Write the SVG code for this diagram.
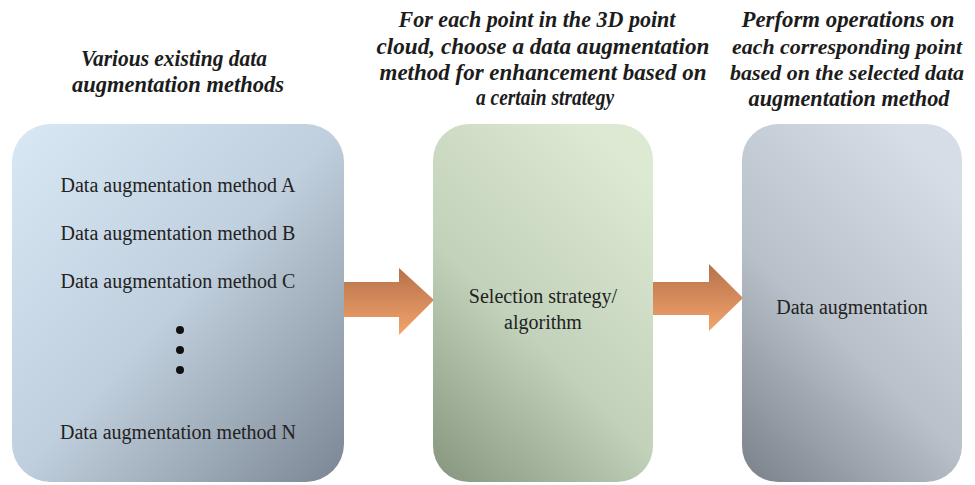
<svg xmlns="http://www.w3.org/2000/svg" width="975" height="485" viewBox="0 0 975 485">
  <style>
    .head { font-family: "Liberation Serif", "Times New Roman", serif; font-weight: bold; font-style: italic; font-size: 24px; fill: #1c1c1c; text-anchor: middle; }
    .head.narrow { font-size: 21px; }
    .body { font-family: "Liberation Serif", "Times New Roman", serif; font-size: 20px; fill: #222; text-anchor: middle; }
    .arrow { fill: url(#gArrow); }
  </style>
  <defs>
    <linearGradient id="gBlue" x1="0" y1="0" x2="1" y2="1">
      <stop offset="0" stop-color="#d9e8f5"/>
      <stop offset="0.5" stop-color="#c0cfdd"/>
      <stop offset="1" stop-color="#7b8694"/>
    </linearGradient>
    <linearGradient id="gGreen" x1="0.7" y1="0" x2="0.1" y2="1">
      <stop offset="0" stop-color="#dce9d3"/>
      <stop offset="0.55" stop-color="#c2d1ba"/>
      <stop offset="1" stop-color="#8a9a83"/>
    </linearGradient>
    <linearGradient id="gGrey" x1="0.7" y1="0" x2="0.1" y2="1">
      <stop offset="0" stop-color="#d5dde7"/>
      <stop offset="0.55" stop-color="#b8c0ca"/>
      <stop offset="1" stop-color="#80868f"/>
    </linearGradient>
    <linearGradient id="gArrow" x1="0" y1="0" x2="0" y2="1">
      <stop offset="0" stop-color="#b5714a"/>
      <stop offset="1" stop-color="#f4a46c"/>
    </linearGradient>
  </defs>

  <!-- column captions (condensed bold italic) -->
  <g id="captions">
    <text class="head" x="174" y="66" textLength="186" lengthAdjust="spacingAndGlyphs">Various existing data</text>
    <text class="head" x="178" y="92" textLength="212" lengthAdjust="spacingAndGlyphs">augmentation methods</text>
    <text class="head" x="537" y="27" textLength="277" lengthAdjust="spacingAndGlyphs">For each point in the 3D point</text>
    <text class="head" x="543" y="54" textLength="333" lengthAdjust="spacingAndGlyphs">cloud, choose a data augmentation</text>
    <text class="head" x="543" y="80" textLength="327" lengthAdjust="spacingAndGlyphs">method for enhancement  based on</text>
    <text class="head" x="545" y="105" textLength="138" lengthAdjust="spacingAndGlyphs">a certain strategy</text>
    <text class="head" x="848" y="27" textLength="213" lengthAdjust="spacingAndGlyphs">Perform operations on</text>
    <text class="head narrow" x="847" y="54" textLength="230" lengthAdjust="spacingAndGlyphs">each corresponding point</text>
    <text class="head narrow" x="847" y="80" textLength="234" lengthAdjust="spacingAndGlyphs">based on the selected data</text>
    <text class="head" x="849" y="106" textLength="201" lengthAdjust="spacingAndGlyphs">augmentation method</text>
  </g>

  <!-- connectors -->
  <g id="connectors">
    <path class="arrow" d="M340,282 H399 V268 L434,300 L399,335 V317 H340 Z"/>
    <path class="arrow" d="M652,282 H709 V264 L743,298 L709,331 V315 H652 Z"/>
  </g>

  <g id="methods">
    <rect x="12" y="124" width="332" height="358" rx="38" fill="url(#gBlue)"/>
    <text class="body" x="178" y="192">Data augmentation method A</text>
    <text class="body" x="178" y="240">Data augmentation method B</text>
    <text class="body" x="178" y="288">Data augmentation method C</text>
    <circle cx="180" cy="330" r="4" fill="#111"/>
    <circle cx="180" cy="350" r="4" fill="#111"/>
    <circle cx="180" cy="370" r="4" fill="#111"/>
    <text class="body" x="178" y="439">Data augmentation method N</text>
  </g>

  <g id="selection">
    <rect x="433" y="124" width="220" height="358" rx="36" fill="url(#gGreen)"/>
    <text class="body" x="543" y="303">Selection strategy/</text>
    <text class="body" x="543" y="329">algorithm</text>
  </g>

  <g id="augmentation">
    <rect x="742" y="124" width="220" height="358" rx="36" fill="url(#gGrey)"/>
    <text class="body" x="852" y="314">Data augmentation</text>
  </g>
</svg>
